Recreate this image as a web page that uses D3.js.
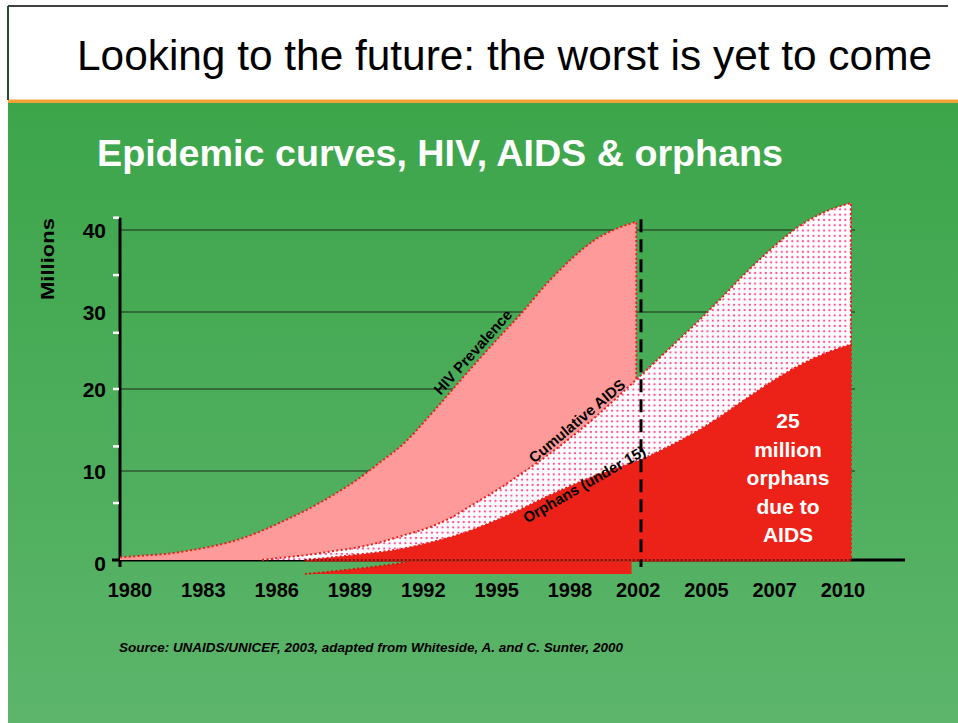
<!DOCTYPE html>
<html>
<head>
<meta charset="utf-8">
<title>Epidemic curves, HIV, AIDS & orphans</title>
<script src="https://cdn.jsdelivr.net/npm/d3@7"></script>
<style>
  body { margin: 0; background: #fff; }
  text { font-family: "Liberation Sans", Arial, sans-serif; }
</style>
</head>
<body>
<div id="chart"></div>
<script>
// data (millions)
var hivYears = [1980, 1981, 1982, 1983, 1984, 1985, 1986, 1987, 1988, 1989, 1990, 1991, 1992, 1993, 1994, 1995, 1996, 1997, 1998, 1999, 2000, 2001, 2001.8];
var hivValues = [0.3, 0.5, 0.7, 1.1, 1.6, 2.3, 3.3, 4.5, 5.8, 7.3, 9.0, 11.1, 13.4, 16.5, 19.8, 23.3, 26.7, 30.0, 33.4, 36.3, 38.7, 40.2, 41.0];

var aidsYears = [1986, 1987, 1988, 1989, 1990, 1991, 1992, 1993, 1994, 1995, 1996, 1997, 1998, 1999, 2000, 2001, 2002, 2003, 2004, 2005, 2006, 2007, 2008, 2009, 2010];
var aidsValues = [0, 0.3, 0.6, 1.0, 1.4, 2.0, 2.8, 3.6, 4.8, 6.4, 8.0, 9.8, 11.8, 14.0, 16.4, 19.0, 21.8, 25.0, 28.2, 31.5, 34.8, 37.8, 40.4, 42.2, 43.3];

var orphanYears = [1987.8, 1989, 1990, 1991, 1992, 1993, 1994, 1995, 1996, 1997, 1998, 1999, 2000, 2001, 2002, 2003, 2004, 2005, 2006, 2007, 2008, 2009, 2010];
var orphanValues = [0, 0.3, 0.6, 0.9, 1.3, 1.9, 2.6, 3.5, 4.6, 5.8, 7.1, 8.3, 9.4, 10.4, 11.4, 12.9, 14.6, 16.6, 18.8, 21.0, 23.0, 24.6, 25.8];

var xLabels = ["1980", "1983", "1986", "1989", "1992", "1995", "1998", "2002", "2005", "2007", "2010"];
var yTicks = [0, 10, 20, 30, 40];
var minorTicks = [6.4, 13, 20, 27.3, 34.5, 41.5];

var curveLabels = ["HIV Prevalence", "Cumulative AIDS", "Orphans (under 15)"];
var labelYears = [1994.9, 1999.3, 1999.6];
var labelValues = [24.8, 16.1, 8.5];
var labelAngles = [-48, -40, -30];

var noteLines = ["25", "million", "orphans", "due to", "AIDS"];

var width = 958, height = 723;

var svg = d3.select("#chart").append("svg")
  .attr("width", width)
  .attr("height", height);

var defs = svg.append("defs");
var grad = defs.append("linearGradient")
  .attr("id", "bg").attr("x1", 0).attr("y1", 0).attr("x2", 0).attr("y2", 1);
grad.append("stop").attr("offset", "0%").attr("stop-color", "#3ca54a");
grad.append("stop").attr("offset", "100%").attr("stop-color", "#5cb56b");

var pat = defs.append("pattern")
  .attr("id", "dots").attr("patternUnits", "userSpaceOnUse")
  .attr("width", 5.3).attr("height", 5.3);
pat.append("rect").attr("width", 5.3).attr("height", 5.3).attr("fill", "#fff");
pat.append("circle").attr("cx", 2.6).attr("cy", 2.6).attr("r", 1.15).attr("fill", "#ff5096");

// slide frame
svg.append("rect").attr("x", 8).attr("y", 103).attr("width", width - 8).attr("height", height - 103)
  .attr("fill", "url(#bg)");
svg.append("rect").attr("x", 8).attr("y", 99.5).attr("width", width - 8).attr("height", 3.5)
  .attr("fill", "#f4a236");
svg.append("line").attr("x1", 8).attr("x2", 948).attr("y1", 6).attr("y2", 6)
  .attr("stroke", "#000").attr("stroke-width", 1.5);
svg.append("line").attr("x1", 8).attr("x2", 8).attr("y1", 6).attr("y2", 100)
  .attr("stroke", "#1d4d2a").attr("stroke-width", 2);

// titles
svg.append("text").attr("x", 77).attr("y", 70)
  .attr("textLength", 855).attr("lengthAdjust", "spacingAndGlyphs")
  .style("font-size", "42px").style("fill", "#000")
  .text("Looking to the future: the worst is yet to come");

svg.append("text").attr("x", 97).attr("y", 166)
  .attr("textLength", 686).attr("lengthAdjust", "spacingAndGlyphs")
  .style("font-size", "36px").style("font-weight", "bold").style("fill", "#fff")
  .text("Epidemic curves, HIV, AIDS & orphans");

// scales (the slide's axes are not evenly drawn)
var xs = d3.scaleLinear().domain([1980, 2002, 2010]).range([120, 641, 851]);
var ys = d3.scaleLinear().domain([0, 10, 20, 30, 40]).range([560, 471, 389, 312, 230]);
var xl = d3.scaleLinear().domain([0, 6, 10]).range([130, 570, 843]);

// gridlines
svg.append("g").selectAll("line")
  .data(yTicks.filter(function(d) { return d > 0; }))
  .enter().append("line")
  .attr("x1", xs(1980)).attr("x2", xs(2010) + 4)
  .attr("y1", function(d) { return ys(d); })
  .attr("y2", function(d) { return ys(d); })
  .attr("stroke", "#1a2a1a").attr("stroke-width", 1.2);

// y axis
svg.append("line")
  .attr("x1", xs(1980)).attr("x2", xs(1980))
  .attr("y1", ys(41.5)).attr("y2", ys(0) + 7)
  .attr("stroke", "#000").attr("stroke-width", 3);
svg.append("g").selectAll("line")
  .data(minorTicks).enter().append("line")
  .attr("x1", xs(1980) - 7).attr("x2", xs(1980) - 1)
  .attr("y1", function(d) { return ys(d); })
  .attr("y2", function(d) { return ys(d); })
  .attr("stroke", "#fff").attr("stroke-width", 2.5);

// x axis
svg.append("line")
  .attr("x1", xs(1980) - 8).attr("x2", xs(2010) + 54)
  .attr("y1", ys(0)).attr("y2", ys(0))
  .attr("stroke", "#000").attr("stroke-width", 3);

// y labels
svg.append("g").selectAll("text")
  .data(yTicks).enter().append("text")
  .attr("x", 106)
  .attr("y", function(d) { return ys(d) + (d == 0 ? 3 : 0); })
  .attr("dy", "0.36em")
  .attr("text-anchor", "end")
  .style("font-size", "21px").style("font-weight", "bold")
  .text(function(d) { return d; });

// y title
svg.append("text")
  .attr("transform", "translate(54,259) rotate(-90)")
  .attr("text-anchor", "middle")
  .attr("textLength", 82).attr("lengthAdjust", "spacingAndGlyphs")
  .style("font-size", "19px").style("font-weight", "bold")
  .text("Millions");

// x labels
svg.append("g").selectAll("text")
  .data(xLabels).enter().append("text")
  .attr("x", function(d, i) { return xl(i); })
  .attr("y", 597)
  .attr("text-anchor", "middle")
  .style("font-size", "20px").style("font-weight", "bold")
  .text(function(d) { return d; });

function pts(years, values) {
  return years.map(function(d, i) { return [d, values[i]]; });
}
var hiv = pts(hivYears, hivValues);
var aids = pts(aidsYears, aidsValues);
var orphans = pts(orphanYears, orphanValues);

var area = d3.area().curve(d3.curveMonotoneX)
  .x(function(d) { return xs(d[0]); })
  .y0(ys(0))
  .y1(function(d) { return ys(d[1]); });
var redArea = d3.area().curve(d3.curveMonotoneX)
  .x(function(d) { return xs(d[0]); })
  .y0(ys(0) + 1.6)
  .y1(function(d) { return ys(d[1]); });

// top curve + right edge, drawn dotted
function edge(data) {
  var line = d3.line().curve(d3.curveMonotoneX)
    .x(function(d) { return xs(d[0]); })
    .y(function(d) { return ys(d[1]); });
  var last = data[data.length - 1];
  return line(data) + "L" + xs(last[0]) + "," + ys(0);
}
function dotted(data) {
  svg.append("path").attr("d", edge(data))
    .attr("fill", "none").attr("stroke", "#ea1f1b")
    .attr("stroke-width", 2).attr("stroke-dasharray", "2,2.4");
}

// sliver under the axis (as on the slide)
defs.append("clipPath").attr("id", "sliver").append("rect")
  .attr("x", xs(1987.8)).attr("y", ys(0) + 1.5)
  .attr("width", xs(2001.6) - xs(1987.8)).attr("height", 14);
var sl = svg.append("g").attr("clip-path", "url(#sliver)")
  .append("g").attr("transform", "translate(0,14)");
sl.append("path").attr("d", area(orphans)).attr("fill", "#ec2218");
sl.append("path").attr("d", edge(orphans)).attr("fill", "none")
  .attr("stroke", "#d8160f").attr("stroke-width", 2).attr("stroke-dasharray", "2,2.4");

// HIV prevalence
svg.append("path").attr("d", area(hiv)).attr("fill", "#ff9a9a");
dotted(hiv);

// cumulative AIDS
svg.append("path").attr("d", area(aids)).attr("fill", "url(#dots)");
dotted(aids);

// orphans
svg.append("path").attr("d", redArea(orphans)).attr("fill", "#ec2218");
dotted(orphans);
svg.append("line")
  .attr("x1", xs(1987.8)).attr("x2", xs(2010))
  .attr("y1", ys(0)).attr("y2", ys(0))
  .attr("stroke", "#000").attr("stroke-width", 1.2).attr("stroke-dasharray", "2,2");

// 2002 marker
svg.append("line")
  .attr("x1", xs(2002)).attr("x2", xs(2002))
  .attr("y1", ys(41.3)).attr("y2", ys(0) + 7)
  .attr("stroke", "#000").attr("stroke-width", 3).attr("stroke-dasharray", "13,7");

// curve labels
svg.append("g").selectAll("text")
  .data(curveLabels).enter().append("text")
  .attr("transform", function(d, i) {
    return "translate(" + xs(labelYears[i]) + "," + ys(labelValues[i]) + ") rotate(" + labelAngles[i] + ")";
  })
  .attr("dy", "0.35em")
  .attr("text-anchor", "middle")
  .style("font-size", "15px").style("font-weight", "bold")
  .text(function(d) { return d; });

// orphans note
svg.append("g").selectAll("text")
  .data(noteLines).enter().append("text")
  .attr("x", xs(2007.6))
  .attr("y", function(d, i) { return ys(15.2) + i * 28.5; })
  .attr("text-anchor", "middle")
  .style("font-size", "21px").style("font-weight", "bold").style("fill", "#fff")
  .text(function(d) { return d; });

// source
svg.append("text").attr("x", 119).attr("y", 652)
  .attr("textLength", 504).attr("lengthAdjust", "spacingAndGlyphs")
  .style("font-size", "12px").style("font-weight", "bold").style("font-style", "italic")
  .text("Source:  UNAIDS/UNICEF, 2003, adapted from Whiteside, A. and C. Sunter, 2000");
</script>
</body>
</html>
